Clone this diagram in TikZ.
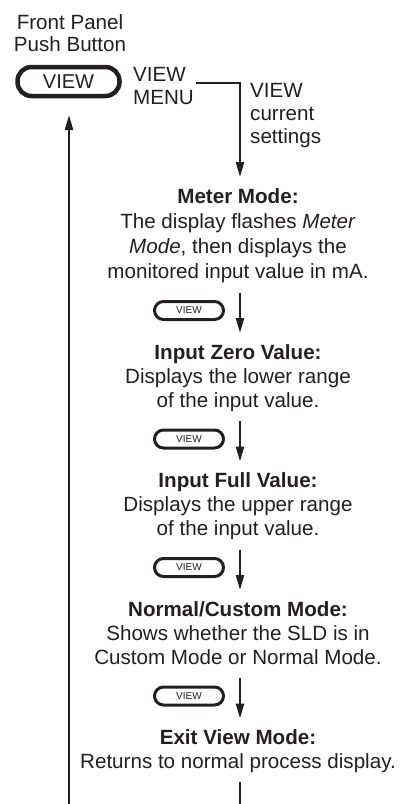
\documentclass[tikz,border=0pt]{standalone}
\usepackage{fontspec}
\setmainfont{Liberation Sans}
\usetikzlibrary{arrows.meta}
\definecolor{ink}{HTML}{231F20}
\begin{document}
\begin{tikzpicture}[x=1pt,y=-1pt,
  every node/.style={text=ink, inner sep=0pt},
  body/.style={anchor=base, font=\fontsize{20.6}{24}\selectfont},
  head/.style={anchor=base, font=\fontsize{20.6}{24}\selectfont\bfseries},
  bigbtn/.style={draw=ink, line width=4.5pt, rounded corners=14pt,
    minimum width=102pt, minimum height=29pt, font=\fontsize{20}{24}\selectfont},
  smallbtn/.style={draw=ink, line width=3pt, rounded corners=9pt,
    minimum width=69pt, minimum height=18pt, font=\fontsize{10}{12}\selectfont},
  flow/.style={draw=ink, line width=2.4pt},
  arr/.style={flow, -{Triangle[length=15pt,width=8pt]}}]
\useasboundingbox (0,0) rectangle (404,804);

% push button and its caption
\node[body] (fp1) at (70,29) {Front Panel};
\node[body] (fp2) at (70,51) {Push Button};
\node[bigbtn] (btn0) at (68.5,81.5) {VIEW};
\node[body, anchor=base west] (vm1) at (133,81) {VIEW};
\node[body, anchor=base west] (vm2) at (133,104) {MENU};
\node[body, anchor=base west] (vc1) at (250,97) {VIEW};
\node[body, anchor=base west] (vc2) at (250,120) {current};
\node[body, anchor=base west] (vc3) at (250,143) {settings};

% step 1
\node[head] (mm0) at (238,203) {Meter Mode:};
\node[body] (mm1) at (238,228) {The display flashes \textit{Meter}};
\node[body] (mm2) at (238,253) {\textit{Mode}, then displays the};
\node[body] (mm3) at (238,278) {monitored input value in mA.};
\node[smallbtn] (b1) at (189,310.5) {VIEW};

% step 2
\node[head] (iz0) at (238,359) {Input Zero Value:};
\node[body] (iz1) at (238,383) {Displays the lower range};
\node[body] (iz2) at (238,407) {of the input value.};
\node[smallbtn] (b2) at (189,439) {VIEW};

% step 3
\node[head] (if0) at (238,487.5) {Input Full Value:};
\node[body] (if1) at (238,511.5) {Displays the upper range};
\node[body] (if2) at (238,535.5) {of the input value.};
\node[smallbtn] (b3) at (189,567.5) {VIEW};

% step 4
\node[head] (nc0) at (238,616) {Normal/Custom Mode:};
\node[body] (nc1) at (238,640) {Shows whether the SLD is in};
\node[body] (nc2) at (238,664) {Custom Mode or Normal Mode.};
\node[smallbtn] (b4) at (189,696) {VIEW};

% exit
\node[head] (ex0) at (238,744.5) {Exit View Mode:};
\node[body] (ex1) at (238,768.5) {Returns to normal process display.};

% connector end points
\coordinate (menuout) at (196,83);
\coordinate (meterin) at (240,177);
\foreach \i/\y in {1/310.5, 2/439, 3/567.5, 4/696} {
  \coordinate (s\i) at (240,\y-18);
  \coordinate (t\i) at (240,\y+22.5);
}
\coordinate (exitfoot) at (240,782);
\coordinate (pageend) at (240,804);
\coordinate (loopfoot) at (69,804);
\coordinate (loophead) at (69,115);

% connectors
\draw[arr] (menuout) -| (meterin);
\foreach \i in {1,...,4} \draw[arr] (s\i) -- (t\i);
\draw[flow] (exitfoot) -- (pageend);
\draw[arr] (loopfoot) -- (loophead);
\end{tikzpicture}
\end{document}
